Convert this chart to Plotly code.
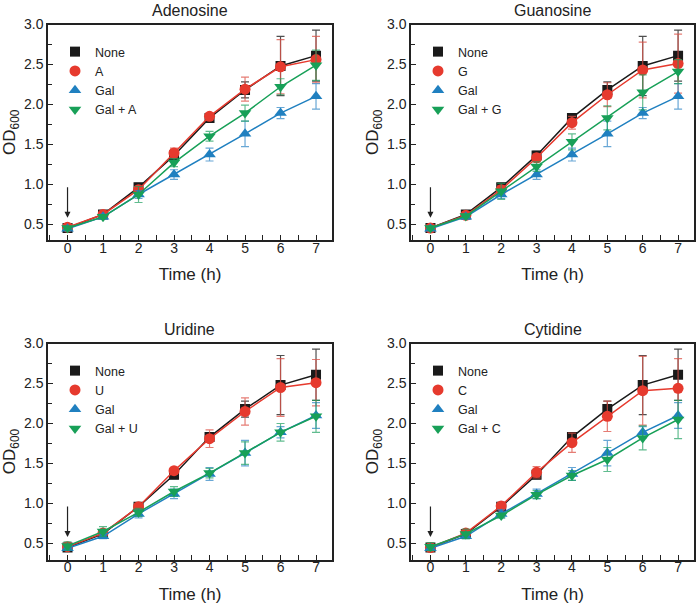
import plotly.graph_objects as go

# time points (h)
time = [0, 1, 2, 3, 4, 5, 6, 7]

panel_titles = ["Adenosine", "Guanosine", "Uridine", "Cytidine"]
nucleoside_codes = ["A", "G", "U", "C"]

# OD600 means, control (no addition) is shared by all panels
none_od = [0.45, 0.62, 0.96, 1.36, 1.83, 2.18, 2.48, 2.61]
none_err = [0.02, 0.02, 0.05, 0.05, 0.04, 0.10, 0.37, 0.32]

gal_od = [0.44, 0.59, 0.87, 1.12, 1.37, 1.63, 1.89, 2.10]
gal_err = [0.02, 0.03, 0.05, 0.06, 0.08, 0.16, 0.07, 0.16]

# nucleoside alone
adenosine_od = [0.46, 0.62, 0.93, 1.39, 1.85, 2.19, 2.47, 2.56]
adenosine_err = [0.02, 0.02, 0.04, 0.06, 0.03, 0.15, 0.34, 0.29]
guanosine_od = [0.45, 0.61, 0.93, 1.33, 1.77, 2.12, 2.43, 2.51]
guanosine_err = [0.02, 0.02, 0.05, 0.05, 0.08, 0.15, 0.35, 0.37]
uridine_od = [0.46, 0.63, 0.96, 1.41, 1.81, 2.15, 2.45, 2.51]
uridine_err = [0.02, 0.03, 0.04, 0.04, 0.11, 0.17, 0.36, 0.29]
cytidine_od = [0.45, 0.63, 0.97, 1.39, 1.76, 2.09, 2.41, 2.44]
cytidine_err = [0.02, 0.03, 0.03, 0.07, 0.12, 0.19, 0.43, 0.37]

# galactose + nucleoside
gal_adenosine_od = [0.45, 0.59, 0.87, 1.27, 1.60, 1.89, 2.22, 2.49]
gal_adenosine_err = [0.02, 0.02, 0.10, 0.05, 0.06, 0.10, 0.10, 0.19]
gal_guanosine_od = [0.45, 0.60, 0.91, 1.22, 1.53, 1.83, 2.15, 2.41]
gal_guanosine_err = [0.02, 0.02, 0.10, 0.06, 0.10, 0.15, 0.22, 0.15]
gal_uridine_od = [0.47, 0.65, 0.89, 1.15, 1.38, 1.63, 1.89, 2.09]
gal_uridine_err = [0.05, 0.06, 0.05, 0.06, 0.06, 0.14, 0.11, 0.20]
gal_cytidine_od = [0.46, 0.62, 0.85, 1.11, 1.35, 1.55, 1.82, 2.05]
gal_cytidine_err = [0.05, 0.06, 0.03, 0.05, 0.06, 0.15, 0.15, 0.24]

nuc_od = [adenosine_od, guanosine_od, uridine_od, cytidine_od]
nuc_err = [adenosine_err, guanosine_err, uridine_err, cytidine_err]
galnuc_od = [gal_adenosine_od, gal_guanosine_od, gal_uridine_od, gal_cytidine_od]
galnuc_err = [gal_adenosine_err, gal_guanosine_err, gal_uridine_err, gal_cytidine_err]

FONT = "Arial, Liberation Sans, sans-serif"
BLACK = "#1a1a1a"
RED = "#e63a2e"
BLUE = "#2080c0"
GREEN = "#18a058"
ERR_COL = {BLACK: "rgba(60,60,60,0.9)", RED: "rgba(220,80,70,0.75)",
           BLUE: "rgba(40,130,195,0.7)", GREEN: "rgba(30,160,95,0.7)"}

W, H = 700, 604
# panel frames in pixels (left, right, top, bottom)
frames = [(48, 332, 24.5, 240), (411, 694, 24.5, 240),
          (48, 332, 343.5, 559.5), (411, 694, 343.5, 559.5)]

fig = go.Figure()
layout = dict(width=W, height=H, margin=dict(l=0, r=0, t=0, b=0, autoexpand=False),
              paper_bgcolor="white", plot_bgcolor="white",
              font=dict(family=FONT, color="#222", size=14),
              showlegend=True, annotations=[])

for i in range(4):
    n = i + 1
    xa = "x" if n == 1 else f"x{n}"
    ya = "y" if n == 1 else f"y{n}"
    leg = "legend" if n == 1 else f"legend{n}"
    code = nucleoside_codes[i]
    series = [
        ("None", none_od, none_err, BLACK, "square", 10),
        (code, nuc_od[i], nuc_err[i], RED, "circle", 11),
        ("Gal", gal_od, gal_err, BLUE, "triangle-up", 11),
        ("Gal + " + code, galnuc_od[i], galnuc_err[i], GREEN, "triangle-down", 11),
    ]
    for name, od, err, col, sym, size in series:
        # connecting line (kept out of the legend so the key shows markers only)
        fig.add_trace(go.Scatter(
            x=time, y=od, mode="lines", line=dict(color=col, width=1.5),
            showlegend=False, hoverinfo="skip", xaxis=xa, yaxis=ya))
        fig.add_trace(go.Scatter(
            x=time, y=od, name=name, mode="markers",
            marker=dict(symbol=sym, size=size, color=col, line=dict(width=0)),
            error_y=dict(type="data", array=err, visible=True,
                         color=ERR_COL[col], thickness=1.2, width=4),
            xaxis=xa, yaxis=ya, legend=leg))

    l, r, t, b = frames[i]
    xdom = [l / W, r / W]
    ydom = [1 - b / H, 1 - t / H]
    axcommon = dict(showline=True, mirror=True, linecolor="#222", linewidth=1.5,
                    showgrid=False, zeroline=False, ticks="inside", ticklen=5,
                    tickcolor="#222", tickwidth=1, automargin=False,
                    tickfont=dict(size=14, family=FONT, color="#222"))
    layout["xaxis" if n == 1 else f"xaxis{n}"] = dict(
        axcommon, domain=xdom, range=[-0.55, 7.45], tickmode="linear", tick0=0, dtick=1,
        ticklabelstandoff=-6,
        minor=dict(dtick=0.5, ticks="inside", ticklen=5, tickcolor="#222"),
        title=dict(text="Time (h)", font=dict(size=17, family=FONT, color="#222"), standoff=14),
        anchor=ya)
    layout["yaxis" if n == 1 else f"yaxis{n}"] = dict(
        axcommon, domain=ydom, range=[0.3, 3.0], tickmode="linear", tick0=0.5, dtick=0.5,
        tickformat=".1f",
        minor=dict(dtick=0.25, tick0=0.5, ticks="inside", ticklen=4, tickcolor="#222"),
        title=dict(text="OD<sub>600</sub>", font=dict(size=17, family=FONT, color="#222"), standoff=4),
        anchor=xa)
    layout[leg] = dict(x=(l + 7) / W, y=1 - (t + 12.5) / H, xanchor="left", yanchor="top",
                       bgcolor="rgba(0,0,0,0)", borderwidth=0, itemwidth=30,
                       font=dict(size=12.5, family=FONT, color="#222"), tracegroupgap=0)
    # panel title
    layout["annotations"].append(dict(
        text=panel_titles[i], x=(l + r) / 2 / W, y=1 - (t - 14) / H, xref="paper", yref="paper",
        showarrow=False, font=dict(size=16, family=FONT, color="#222"),
        xanchor="center", yanchor="middle"))
    # arrow marking the time of addition
    layout["annotations"].append(dict(
        x=0, y=0.58, ax=0, ay=0.98, xref=xa, yref=ya, axref=xa, ayref=ya,
        showarrow=True, arrowhead=2, arrowsize=1, arrowwidth=1.2, arrowcolor="#222", text=""))

fig.update_layout(**layout)
fig.write_html(
    "out.html", config={"displayModeBar": False},
    post_script=("document.documentElement.style.margin='0';"
                 "document.body.style.margin='0';document.body.style.padding='0';"
                 "var d=document.getElementsByClassName('plotly-graph-div')[0];"
                 "d.style.position='absolute';d.style.top='0';d.style.left='0';"))
